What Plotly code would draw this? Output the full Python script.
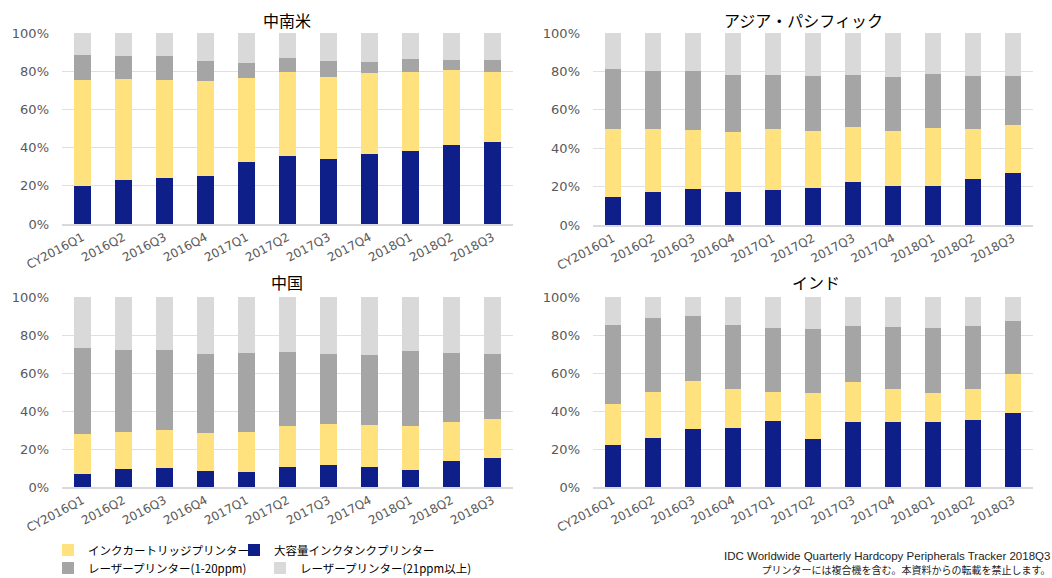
import plotly.graph_objects as go

quarters = ["CY2016Q1", "2016Q2", "2016Q3", "2016Q4", "2017Q1", "2017Q2",
            "2017Q3", "2017Q4", "2018Q1", "2018Q2", "2018Q3"]

series_names = ["インクカートリッジプリンター", "大容量インクタンクプリンター",
                "レーザープリンター(1-20ppm)", "レーザープリンター(21ppm以上)"]

# 中南米
la_tank = [20.1, 23.2, 24.1, 25.3, 32.5, 35.8, 34.0, 36.5, 38.2, 41.4, 42.9]
la_cart = [55.3, 52.5, 51.1, 49.6, 43.8, 44.0, 43.1, 42.4, 41.6, 39.2, 36.7]
la_laser1 = [13.1, 12.1, 12.9, 10.6, 8.2, 6.9, 8.4, 6.1, 6.8, 5.4, 6.4]
la_laser2 = [11.5, 12.2, 11.9, 14.5, 15.5, 13.3, 14.5, 15.0, 13.4, 14.0, 14.0]

# アジア・パシフィック
ap_tank = [14.6, 17.0, 18.9, 17.0, 18.2, 19.1, 22.6, 20.5, 20.1, 23.8, 27.1]
ap_cart = [35.2, 32.8, 30.8, 31.4, 31.8, 30.0, 28.6, 28.6, 30.2, 26.0, 25.2]
ap_laser1 = [31.6, 30.6, 30.7, 29.7, 28.3, 28.7, 26.9, 27.8, 28.3, 28.0, 25.5]
ap_laser2 = [18.6, 19.6, 19.6, 21.9, 21.7, 22.2, 21.9, 23.1, 21.4, 22.2, 22.2]

# 中国
cn_tank = [6.9, 9.7, 10.2, 8.6, 7.9, 10.7, 11.6, 10.7, 9.1, 13.9, 15.5]
cn_cart = [21.0, 19.1, 19.7, 20.0, 21.3, 21.3, 21.6, 21.8, 23.1, 20.4, 20.4]
cn_laser1 = [45.4, 43.4, 42.2, 41.2, 41.5, 38.8, 36.9, 37.1, 39.5, 36.4, 34.0]
cn_laser2 = [26.7, 27.8, 27.9, 30.2, 29.3, 29.2, 29.9, 30.4, 28.3, 29.3, 30.1]

# インド
in_tank = [22.3, 25.7, 30.4, 30.9, 34.6, 25.5, 34.1, 34.1, 34.3, 35.1, 39.2]
in_cart = [21.5, 24.4, 25.3, 20.9, 15.5, 23.9, 21.3, 17.6, 15.3, 16.6, 20.2]
in_laser1 = [41.6, 38.7, 34.5, 33.6, 33.4, 33.6, 29.1, 32.3, 33.9, 32.8, 27.9]
in_laser2 = [14.6, 11.2, 9.8, 14.6, 16.5, 17.0, 15.5, 16.0, 16.5, 15.5, 12.7]

regions = [
    ("中南米", la_tank, la_cart, la_laser1, la_laser2),
    ("アジア・パシフィック", ap_tank, ap_cart, ap_laser1, ap_laser2),
    ("中国", cn_tank, cn_cart, cn_laser1, cn_laser2),
    ("インド", in_tank, in_cart, in_laser1, in_laser2),
]

W, H = 1052, 578
C_TANK = "#0f1f8a"
C_CART = "#ffe17d"
C_L1 = "#a5a5a5"
C_L2 = "#d9d9d9"

FONT = "Noto Sans CJK JP, Noto Sans, sans-serif"
TICKFONT = "DejaVu Sans, Verdana, sans-serif"

# pixel boxes: (x0, x1, y_top(100%), y_bottom(0%))
boxes = [(62, 513, 33, 224), (593, 1033, 33, 225), (62, 513, 297, 487), (593, 1033, 297, 487)]
title_pos = [(287, 20), (803, 20), (287, 282), (816, 282)]

fig = go.Figure()

for i, (name, tank, cart, l1, l2) in enumerate(regions):
    k = "" if i == 0 else str(i + 1)
    xa, ya = "x" + k, "y" + k
    first = i == 0
    # stacking order bottom -> top: tank, cart, laser1, laser2
    fig.add_trace(go.Bar(x=quarters, y=tank, name=series_names[1], marker_color=C_TANK,
                         xaxis=xa, yaxis=ya, showlegend=first, legend="legend2",
                         marker_line_width=0))
    fig.add_trace(go.Bar(x=quarters, y=cart, name=series_names[0], marker_color=C_CART,
                         xaxis=xa, yaxis=ya, showlegend=first, legend="legend",
                         marker_line_width=0))
    fig.add_trace(go.Bar(x=quarters, y=l1, name=series_names[2], marker_color=C_L1,
                         xaxis=xa, yaxis=ya, showlegend=first, legend="legend3",
                         marker_line_width=0))
    fig.add_trace(go.Bar(x=quarters, y=l2, name=series_names[3], marker_color=C_L2,
                         xaxis=xa, yaxis=ya, showlegend=first, legend="legend4",
                         marker_line_width=0))

    x0, x1, yt, yb = boxes[i]
    fig.layout["xaxis" + k] = dict(
        domain=[x0 / W, x1 / W], anchor=ya, type="category", tickangle=-28,
        tickfont=dict(family=TICKFONT, size=12, color="#595959"), automargin=False,
        showline=True, linecolor="#d9d9d9", linewidth=2, ticks="", showgrid=False,
    )
    fig.layout["yaxis" + k] = dict(
        domain=[1 - yb / H, 1 - yt / H], anchor=xa, range=[0, 100], dtick=20,
        ticksuffix="%", tickfont=dict(family=TICKFONT, size=13, color="#595959"),
        showgrid=True, gridcolor="#e0e0e0", gridwidth=1, zeroline=False,
        ticks="", ticklabelstandoff=12, automargin=False,
    )
    tx, ty = title_pos[i]
    fig.add_annotation(text=name, x=tx / W, y=1 - ty / H, xref="paper", yref="paper",
                       xanchor="center", yanchor="middle", showarrow=False,
                       font=dict(family=FONT, size=16, color="#000000"))

fig.add_annotation(
    text=("<span style='font-family:Liberation Sans, Arial, sans-serif;font-size:11.5px'>"
          "IDC Worldwide Quarterly Hardcopy Peripherals Tracker 2018Q3</span><br>"
          "<span style='font-size:10px'>"
          "プリンターには複合機を含む。本資料からの転載を禁止します。</span>"),
    x=1051 / W, y=0, xref="paper", yref="paper", align="right",
    xanchor="right", yanchor="bottom", showarrow=False, borderpad=0,
    font=dict(family=FONT, size=10.5, color="#222222"))

legend_common = dict(orientation="h", xanchor="left", yanchor="middle",
                     font=dict(family=FONT, size=11.5, color="#000000"),
                     bgcolor="rgba(0,0,0,0)", itemwidth=30, tracegroupgap=0,
                     itemclick=False, itemdoubleclick=False)

fig.update_layout(
    width=W, height=H, margin=dict(l=0, r=0, t=0, b=0, autoexpand=False),
    paper_bgcolor="white", plot_bgcolor="white",
    barmode="stack", bargap=0.6,
    legend=dict(x=48 / W, y=1 - 550 / H, **legend_common),
    legend2=dict(x=234 / W, y=1 - 550 / H, **legend_common),
    legend3=dict(x=48 / W, y=1 - 568 / H, **legend_common),
    legend4=dict(x=260 / W, y=1 - 568 / H, **legend_common),
    font=dict(family=FONT),
)

fig.write_html("out.html")
